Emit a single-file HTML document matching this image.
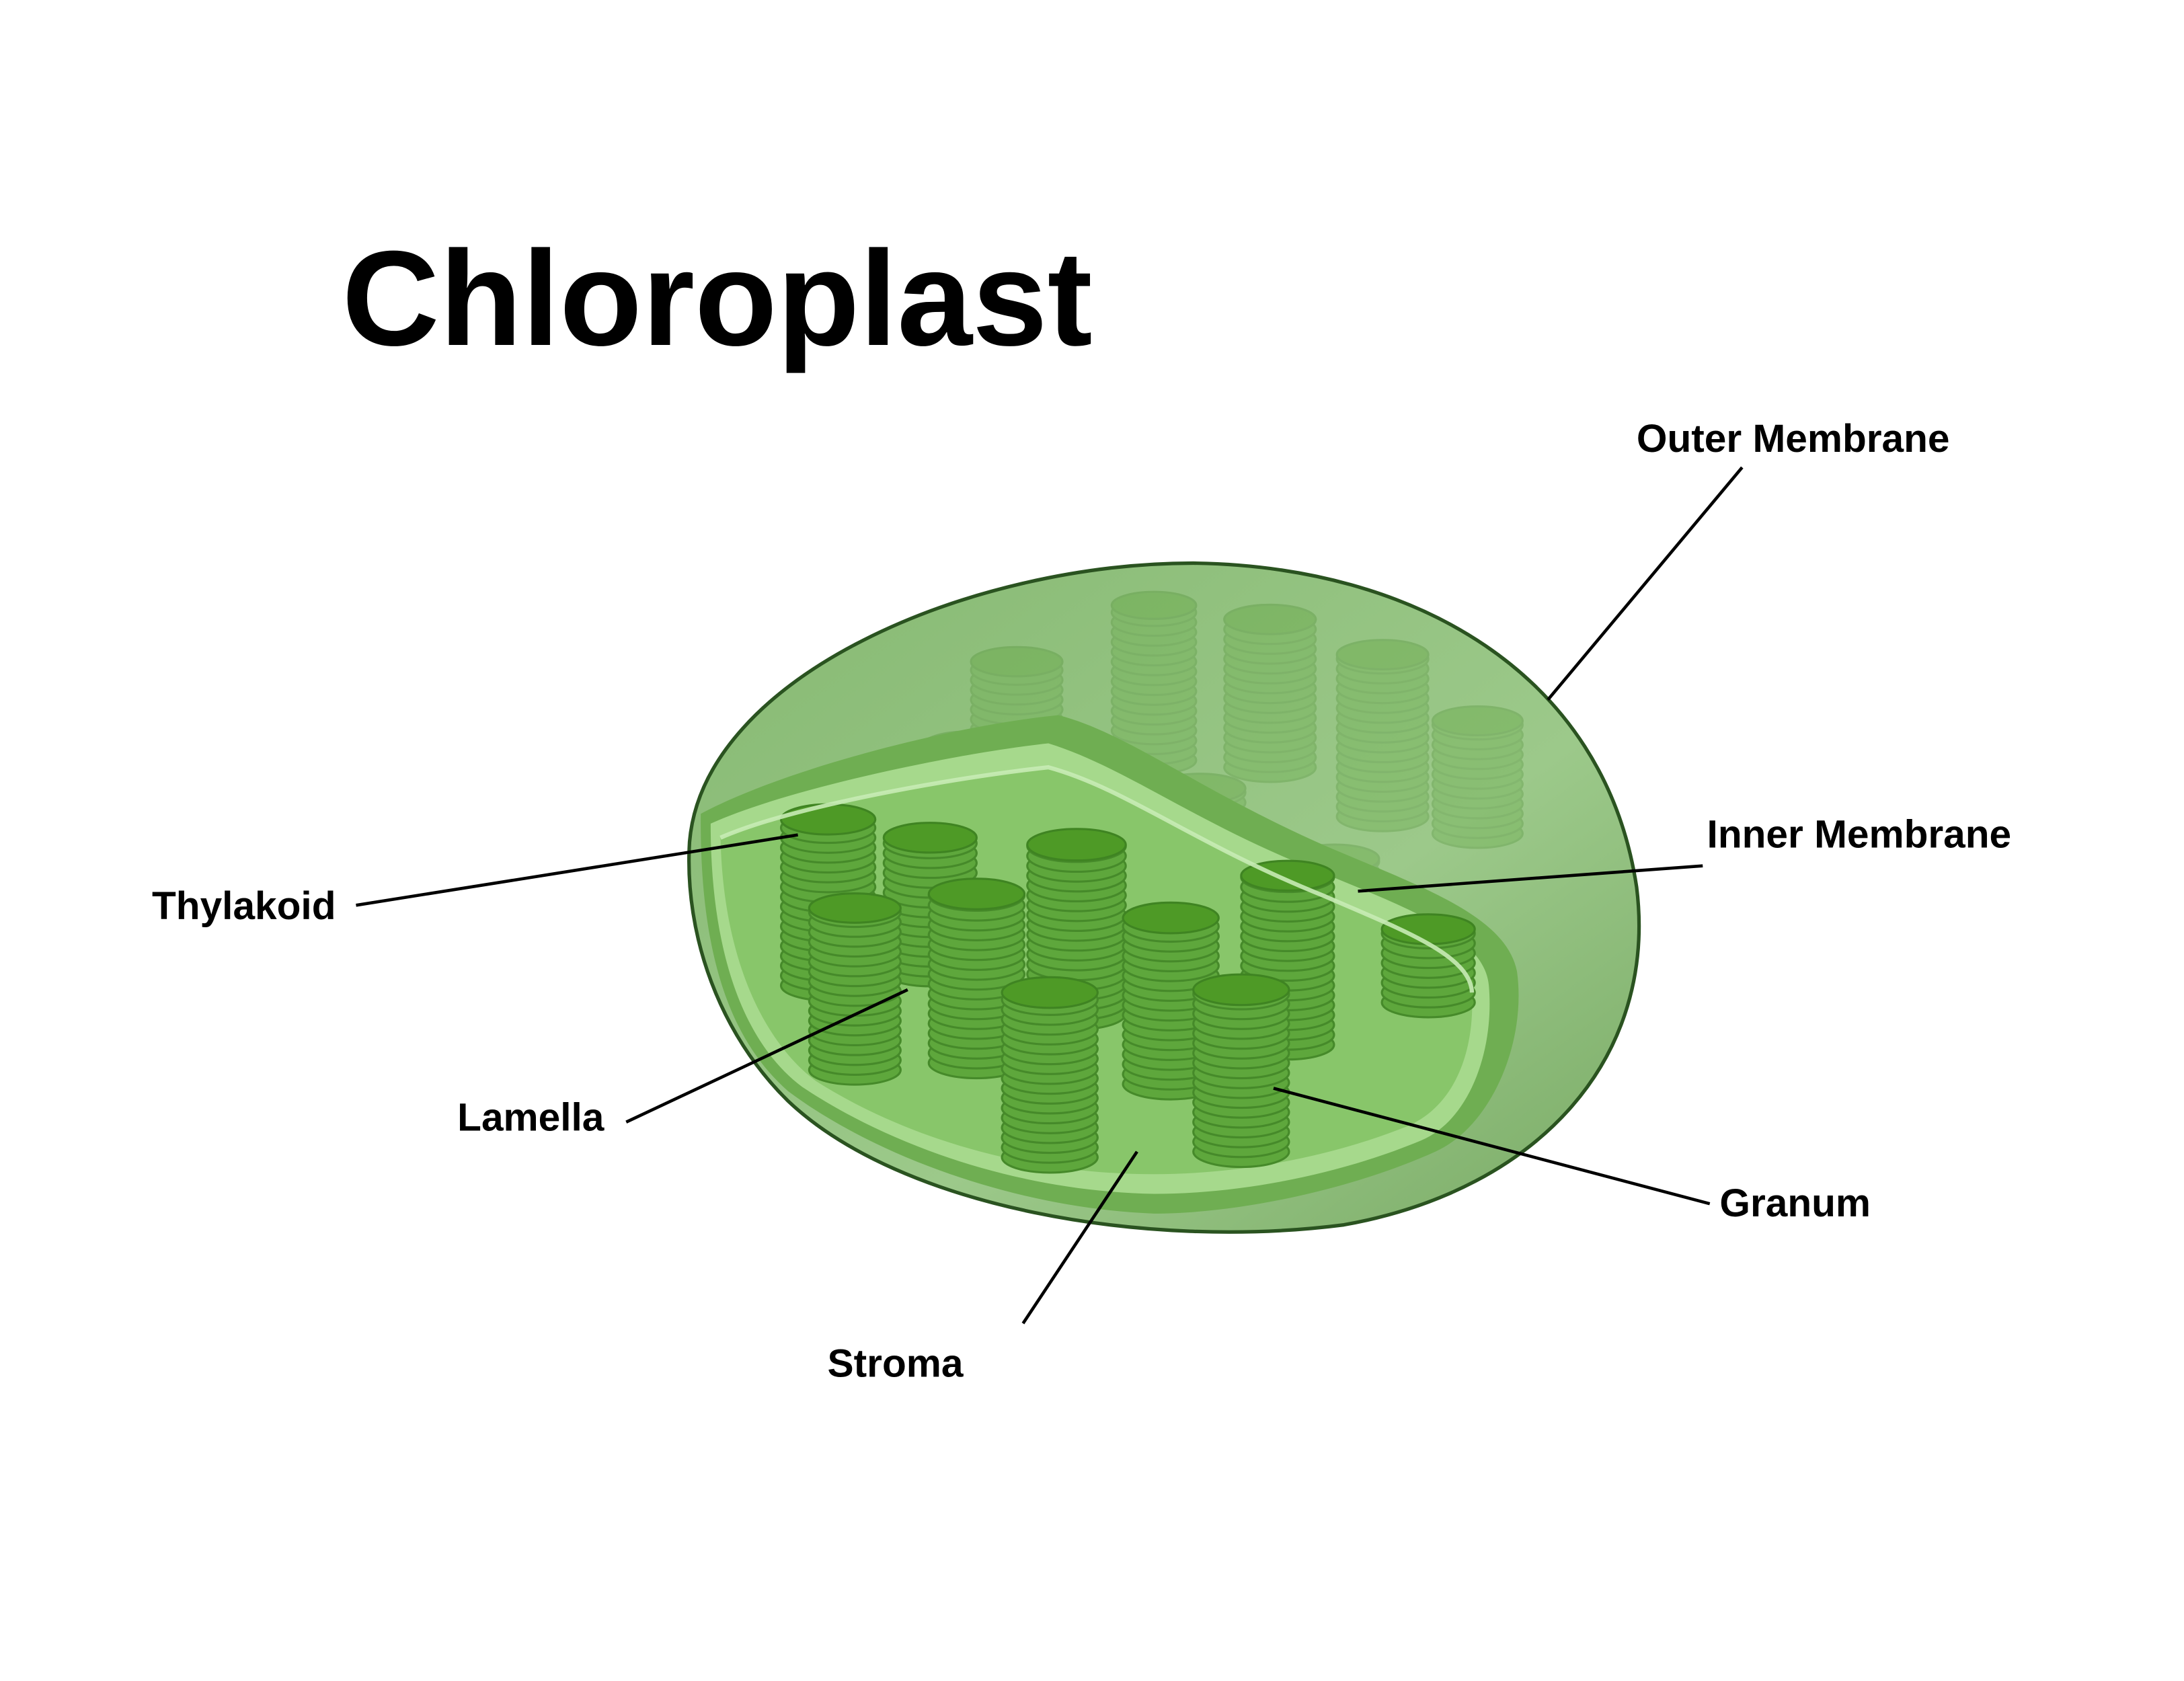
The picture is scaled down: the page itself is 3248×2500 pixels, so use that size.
<!DOCTYPE html>
<html><head><meta charset="utf-8">
<style>
html,body{margin:0;padding:0;background:#fff;width:3248px;height:2500px;overflow:hidden}
svg{display:block}
text{font-family:"Liberation Sans",Arial,sans-serif;font-weight:bold;fill:#000}
</style></head>
<body>
<svg id="s" width="3248" height="2500" viewBox="0 0 1552 1194" preserveAspectRatio="none" xmlns="http://www.w3.org/2000/svg">
<defs>
<linearGradient id="og" x1="0" y1="0" x2="1" y2="1">
<stop offset="0" stop-color="#86b972"/><stop offset="0.6" stop-color="#9cc98a"/><stop offset="1" stop-color="#7aab66"/>
</linearGradient>
</defs>
<text x="243" y="245" font-size="96">Chloroplast</text>
<path d="M490 598 C500 480 690 400 848 400 C1005 402 1140 478 1163 630 C1178 750 1095 845 955 870 C815 888 640 858 560 782 C512 735 486 665 490 598 Z" fill="url(#og)" stroke="#2a5320" stroke-width="2.5"/>
<g id="back" opacity="0.28"></g>
<path d="M498 578 C560 545 680 515 752 508 C800 520 850 560 940 600 C1010 630 1070 650 1078 690 C1085 740 1060 800 1020 818 C960 845 880 862 820 862 C720 858 620 820 560 775 C520 740 497 680 498 578 Z" fill="#6fae52"/>
<path d="M505 585 C560 560 680 535 745 528 C800 545 850 585 940 620 C1000 645 1055 665 1058 700 C1062 745 1045 795 1010 810 C950 835 880 848 820 848 C720 846 630 812 570 772 C530 742 505 680 505 585 Z" fill="#a6d98c"/>
<path d="M512 595 C565 572 680 552 745 545 C800 560 850 600 940 636 C995 660 1045 678 1046 705 C1048 745 1035 785 1000 800 C945 822 880 834 820 834 C725 834 640 806 580 768 C545 742 514 685 512 595 Z" fill="#88c66a"/>
<g id="front"></g>
<path d="M512 595 C565 572 680 552 745 545 C800 560 850 600 940 636 C995 660 1045 678 1046 705" fill="none" stroke="#c8ebb5" stroke-width="3" opacity="0.9"/>
<g stroke="#000" stroke-width="2.2" fill="none">
<line x1="1238" y1="332" x2="1100" y2="497"/>
<line x1="1210" y1="615" x2="965" y2="633"/>
<line x1="253" y1="643" x2="567" y2="593"/>
<line x1="445" y1="797" x2="645" y2="703"/>
<line x1="1215" y1="855" x2="905" y2="773"/>
<line x1="727" y1="940" x2="808" y2="818"/>
</g>
<g font-size="28">
<text x="1163" y="321">Outer Membrane</text>
<text x="1213" y="602">Inner Membrane</text>
<text x="108" y="653">Thylakoid</text>
<text x="325" y="803">Lamella</text>
<text x="1222" y="864">Granum</text>
<text x="588" y="978">Stroma</text>
</g>
</svg>
<script>
var NS="http://www.w3.org/2000/svg";
function el(t,a,p){var e=document.createElementNS(NS,t);for(var k in a)e.setAttribute(k,a[k]);p.appendChild(e);return e;}
function cyl(p,x1,x2,top,bot){
 var cx=(x1+x2)/2,rx=(x2-x1)/2,ry=rx*0.32;
 for(var y=bot;y>=top;y-=7){
  el("ellipse",{cx:cx,cy:y,rx:rx,ry:ry,fill:"#5ea73c",stroke:"#468a2a","stroke-width":1.5},p);
 }
 el("ellipse",{cx:cx,cy:top,rx:rx,ry:ry,fill:"#4e9a26",stroke:"#3f8422","stroke-width":1.5},p);
}
var b=document.getElementById("back"),f=document.getElementById("front");
[[790,850,430,540],[870,935,440,545],[950,1015,465,580],[1018,1082,512,592],[690,755,470,525],[655,720,530,620],[740,800,540,600],[820,885,560,640],[917,980,610,675]].forEach(function(c){cyl(b,c[0],c[1],c[2],c[3]);});
var fr=[[982,1048,660,712],[628,694,595,690],[555,622,582,700],[730,800,600,720],[882,948,622,742],[575,640,645,760],[660,728,635,755],[798,866,652,770],[712,780,705,822],[848,916,703,818]];
fr.forEach(function(c){cyl(f,c[0],c[1],c[2],c[3]);});
</script>
</body></html>
